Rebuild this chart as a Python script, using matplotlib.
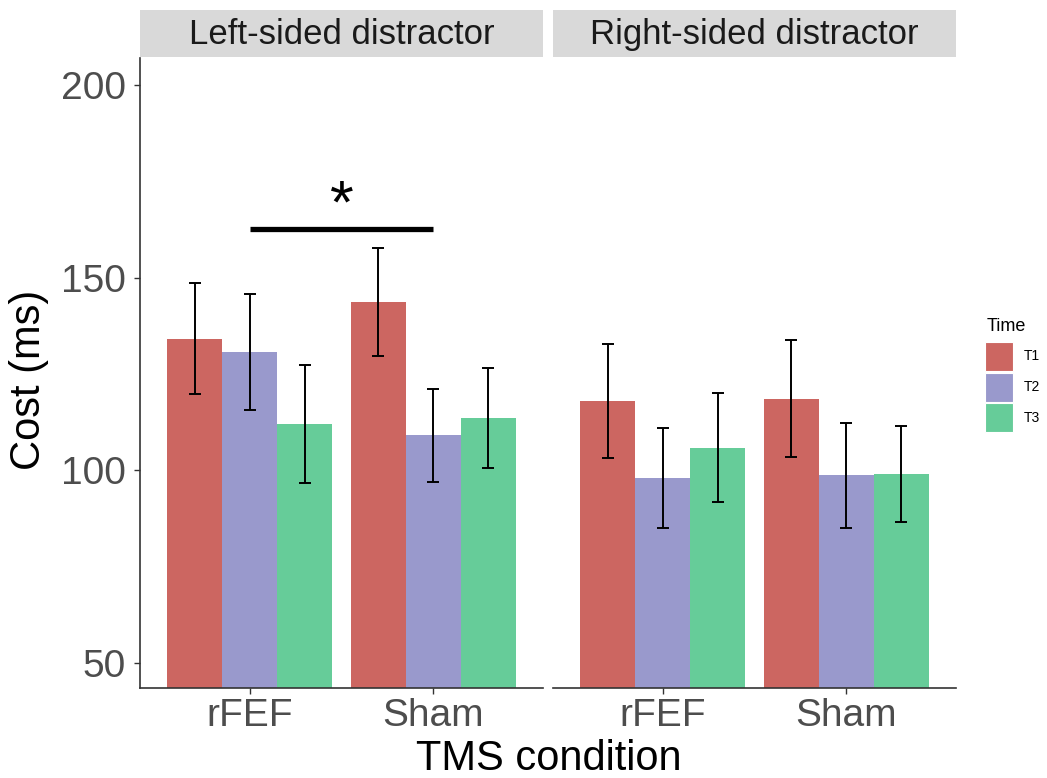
import matplotlib
matplotlib.use("Agg")
import matplotlib.pyplot as plt
from matplotlib.patches import Rectangle
import numpy as np

plt.rcParams['font.family'] = ['Liberation Sans', 'DejaVu Sans']

# ---- data ----
conditions = ['rFEF', 'Sham']
times = ['T1', 'T2', 'T3']
panels = ['Left-sided distractor', 'Right-sided distractor']

left_mean = {'T1': [134.2, 143.7], 'T2': [130.7, 109.1], 'T3': [112.1, 113.5]}
left_err = {'T1': [14.5, 14.0], 'T2': [15.0, 12.1], 'T3': [15.3, 13.0]}
right_mean = {'T1': [117.9, 118.6], 'T2': [98.0, 98.7], 'T3': [105.9, 99.0]}
right_err = {'T1': [14.8, 15.2], 'T2': [13.0, 13.7], 'T3': [14.1, 12.5]}

y_ticks = [50, 100, 150, 200]
sig_y = 162.5          # height of the significance bar (left panel)
sig_label = '*'

colors = {'T1': '#CC6661', 'T2': '#9999CC', 'T3': '#66CC99'}

# ---- layout ----
W, H = 1047, 778
fig = plt.figure(figsize=(W / 100, H / 100), dpi=100)

def fx(px):
    return px / W

def fy(px):
    return 1 - px / H

panel_top, panel_bot = 58, 688
panel_lefts = [140, 553]
panel_w = 403
strip_top, strip_bot = 10, 57

dodge = 0.9
bw = dodge / len(times)
x = np.arange(1, len(conditions) + 1)
axis_col = '#333333'
tick_col = '#4D4D4D'

data = [(left_mean, left_err), (right_mean, right_err)]
axes = []
for p, (means, errs) in enumerate(data):
    ax = fig.add_axes([fx(panel_lefts[p]), fy(panel_bot), fx(panel_w),
                       (panel_bot - panel_top) / H])
    for k, t in enumerate(times):
        xpos = x + (k - 1) * bw
        ax.bar(xpos, means[t], width=bw, color=colors[t], edgecolor='none',
               zorder=2)
        ax.errorbar(xpos, means[t], yerr=errs[t], fmt='none', ecolor='black',
                    elinewidth=1.4, capsize=4.3, capthick=1.4, zorder=3)
    ax.set_xlim(0.4, 2.6)
    ax.set_ylim(43.5, 207)
    ax.set_xticks(x)
    ax.set_xticklabels(conditions)
    ax.set_yticks(y_ticks)
    for s in ['top', 'right']:
        ax.spines[s].set_visible(False)
    ax.spines['bottom'].set_color(axis_col)
    ax.spines['bottom'].set_linewidth(1.2)
    ax.tick_params(axis='x', length=4, width=1.0, color=axis_col,
                   labelsize=28, labelcolor=tick_col, pad=3)
    if p == 0:
        ax.spines['left'].set_color(axis_col)
        ax.spines['left'].set_linewidth(1.2)
        ax.tick_params(axis='y', length=4, width=1.0, color=axis_col,
                       labelsize=28, labelcolor=tick_col, pad=6)
    else:
        ax.spines['left'].set_visible(False)
        ax.tick_params(axis='y', left=False, labelleft=False)
    ax.set_facecolor('white')
    axes.append(ax)

    # facet strip
    sax = fig.add_axes([fx(panel_lefts[p]), fy(strip_bot), fx(panel_w),
                        (strip_bot - strip_top) / H])
    sax.set_facecolor('#D9D9D9')
    sax.set_xticks([])
    sax.set_yticks([])
    for s in sax.spines.values():
        s.set_visible(False)
    sax.text(0.5, 0.47, panels[p], ha='center', va='center', fontsize=25,
             color='#1A1A1A', transform=sax.transAxes)

# significance marker between rFEF and Sham, left panel
ax0 = axes[0]
ax0.plot([x[0], x[1]], [sig_y, sig_y], color='black', lw=3.8,
         solid_capstyle='butt', zorder=4)
ax0.annotate(sig_label, xy=((x[0] + x[1]) / 2, sig_y), xytext=(0, 5),
             textcoords='offset points', ha='center', va='baseline',
             fontsize=44, color='black', zorder=4)

# axis titles
fig.text(fx(549), 8 / H, 'TMS condition', ha='center', va='baseline',
         fontsize=30, color='black')
fig.text(fx(29), fy(380), 'Cost (ms)', ha='center', va='center',
         rotation=90, fontsize=30, color='black')

# legend: title, keys and labels placed in figure pixels
key_x, key_w, key_h, key_top, key_step = 985, 28, 29, 342, 30.5
fig.text(fx(987), fy(331), 'Time', ha='left', va='baseline', fontsize=13,
         color='black')
for i, t in enumerate(times):
    top = key_top + i * key_step
    fig.patches.append(Rectangle((fx(key_x), fy(top + key_h)), fx(key_w),
                                 key_h / H, transform=fig.transFigure,
                                 facecolor=colors[t], edgecolor='white',
                                 linewidth=0.8))
    fig.text(fx(1024), fy(top + key_h / 2), t, ha='left', va='center',
             fontsize=10, color='black')

fig.savefig('out.png', dpi=100, facecolor='white')
